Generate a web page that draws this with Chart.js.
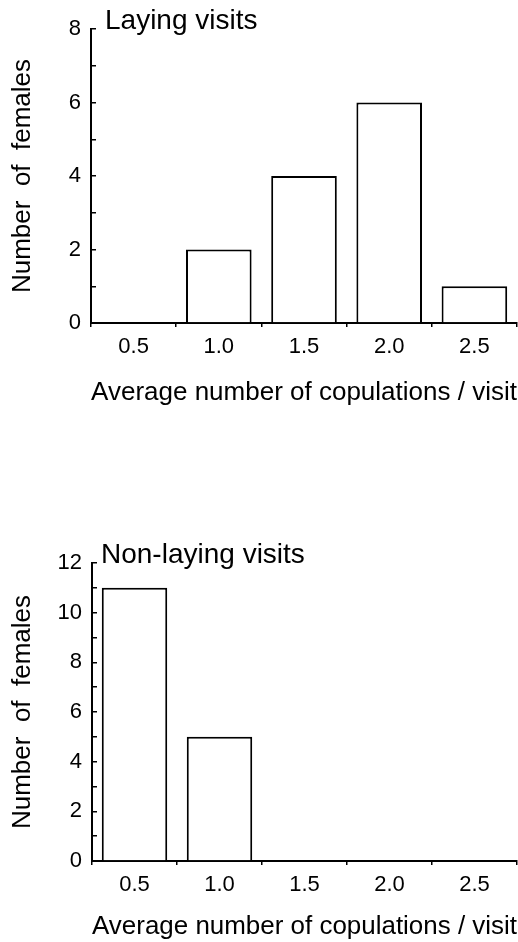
<!DOCTYPE html>
<html>
<head>
<meta charset="utf-8">
<script src="https://cdn.jsdelivr.net/npm/chart.js@4.4.1/dist/chart.umd.min.js"></script>
<style>
  body { margin: 0; background: #fff; }
  .panel { position: absolute; left: 0; width: 518px; }
  #top { top: 0; height: 420px; }
  #bottom { top: 530px; height: 412px; }
</style>
</head>
<body>
<div class="panel" id="top"><canvas id="laying"></canvas></div>
<div class="panel" id="bottom"><canvas id="nonlaying"></canvas></div>
<script>
// bins of average copulations per visit
const categories = ['0.5', '1.0', '1.5', '2.0', '2.5'];
// number of females in each bin
const layingFemales = [0, 2, 4, 6, 1];
const nonLayingFemales = [11, 5, 0, 0, 0];
// labelled y ticks (odd values get a bare tick mark)
const layingTicks = [0, 2, 4, 6, 8];
const nonLayingTicks = [0, 2, 4, 6, 8, 10, 12];

const FONT = 'Liberation Sans, Arial, Helvetica, sans-serif';

// panel heading drawn just right of the top of the y axis
const panelTitle = {
  id: 'panelTitle',
  afterDraw(chart, args, opts) {
    const {ctx, chartArea} = chart;
    ctx.save();
    ctx.font = `${opts.size}px ${FONT}`;
    ctx.fillStyle = '#000';
    ctx.textBaseline = 'alphabetic';
    ctx.fillText(opts.text, chartArea.left + opts.dx, chartArea.top + opts.dy);
    ctx.restore();
  }
};

function makeChart(id, title, data, yTicks, cfg) {
  return new Chart(document.getElementById(id), {
    type: 'bar',
    data: {
      labels: categories,
      datasets: [{
        data: data,
        backgroundColor: '#fff',
        borderColor: '#000',
        borderWidth: 2,
        barPercentage: 0.77,
        categoryPercentage: 1
      }]
    },
    plugins: [panelTitle],
    options: {
      responsive: true,
      maintainAspectRatio: false,
      animation: false,
      layout: { padding: { top: cfg.top, right: 1, left: 0, bottom: 0 } },
      plugins: {
        legend: { display: false },
        tooltip: { enabled: false },
        panelTitle: { text: title, size: 28, dx: cfg.titleDx, dy: 0 }
      },
      scales: {
        x: {
          afterFit: s => { s.height = cfg.xHeight },
          grid: { drawOnChartArea: false, color: '#000', lineWidth: 1.5, tickLength: 4 },
          border: { color: '#000', width: 2 },
          ticks: { color: '#000', padding: 7, font: { family: FONT, size: 22 } },
          title: {
            display: true,
            text: 'Average number of copulations / visit',
            color: '#000',
            font: { family: FONT, size: 26 },
            padding: { top: 0, bottom: cfg.xTitlePad }
          }
        },
        y: {
          min: 0,
          max: yTicks[yTicks.length - 1],
          afterFit: s => { s.width = cfg.left },
          grid: { drawOnChartArea: false, color: '#000', lineWidth: 1.5, tickLength: -5 },
          border: { color: '#000', width: 2 },
          ticks: {
            stepSize: 1,
            autoSkip: false,
            color: '#000',
            padding: 15,
            font: { family: FONT, size: 22 },
            callback: v => yTicks.includes(v) ? String(v) : ''
          },
          title: {
            display: true,
            text: 'Number  of  females',
            color: '#000',
            font: { family: FONT, size: 26 },
            padding: { top: 7, bottom: 0 }
          }
        }
      }
    }
  });
}

makeChart('laying', 'Laying visits', layingFemales, layingTicks,
  { top: 29, left: 91, xHeight: 97, xTitlePad: 12, titleDx: 14 });
makeChart('nonlaying', 'Non-laying visits', nonLayingFemales, nonLayingTicks,
  { top: 33, left: 92, xHeight: 81, xTitlePad: 0, titleDx: 9 });
</script>
</body>
</html>
